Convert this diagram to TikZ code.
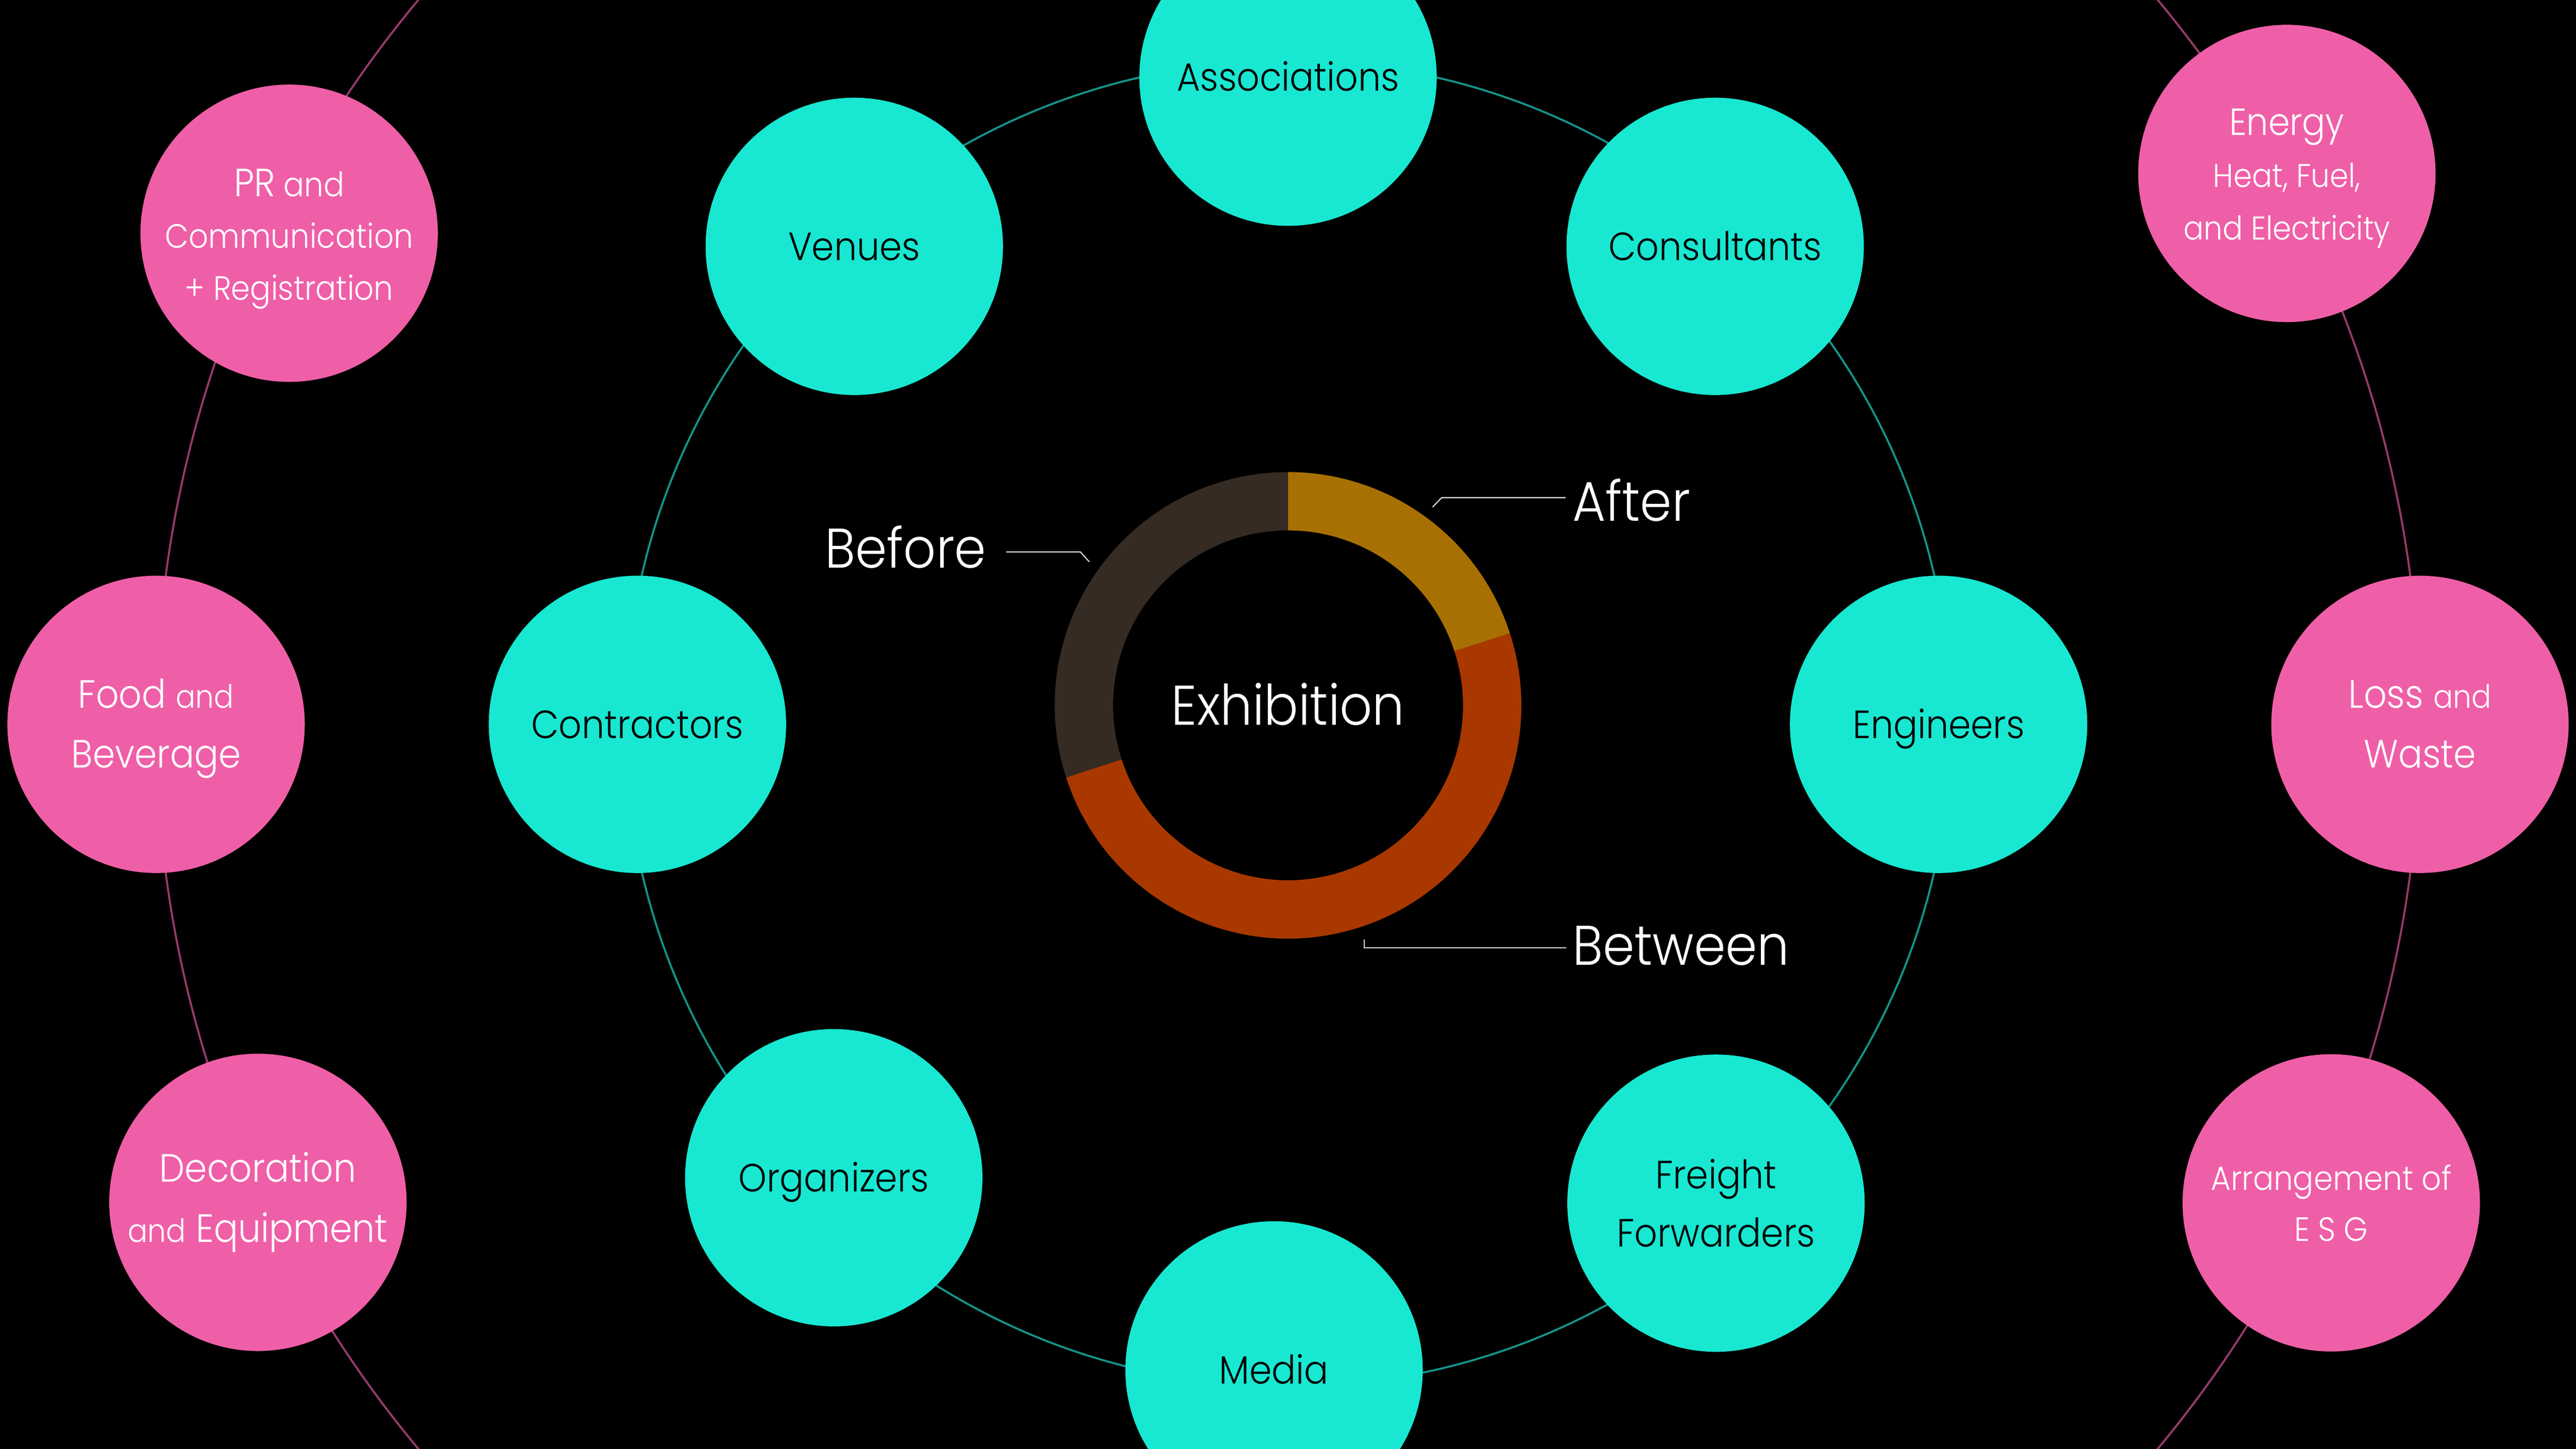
\documentclass[tikz,border=0pt]{standalone}
\usepackage{fontspec}
\usetikzlibrary{calc}
\setmainfont{Poppins Light}[FakeStretch=0.91]
\definecolor{tealfill}{HTML}{18E8D2}
\definecolor{pinkfill}{HTML}{EF5FA7}
\definecolor{tealline}{HTML}{13958A}
\definecolor{pinkline}{HTML}{9A3A6B}
\definecolor{beforecol}{HTML}{362B22}
\definecolor{aftercol}{HTML}{A87003}
\definecolor{betweencol}{HTML}{A83800}
\newcommand\pksmall[1]{{\fontsize{19.5}{36}\selectfont #1}}
\tikzset{
  tealnode/.style={circle, fill=tealfill, minimum size=181pt, inner sep=0pt,
    text=black, align=center, font=\fontsize{24}{35.5}\selectfont},
  oneline/.style={text height=16.8pt, text depth=0pt},
  pinknode/.style={circle, fill=pinkfill, minimum size=181pt, inner sep=0pt,
    text=white, align=center, font=\fontsize{24}{36.5}\selectfont},
  pinktext/.style={inner sep=0pt, text=white, align=center, font=\fontsize{24}{36.5}\selectfont},
  tealring/.style={draw=tealline, line width=1.2pt},
  pinkring/.style={draw=pinkline, line width=1.2pt},
  leader/.style={draw=white!85!black, line width=0.7pt},
  biglabel/.style={text=white, inner sep=0pt, font=\fontsize{34}{40}\selectfont}
}
\begin{document}
\begin{tikzpicture}[x=1pt,y=-1pt]
\useasboundingbox (0,0) rectangle (1568,882);
\fill[black] (0,0) rectangle (1568,882);
\clip (0,0) rectangle (1568,882);

% rings
\coordinate (tc) at (784,440.5);
\coordinate (pc) at (784,441);
\draw[tealring] (tc) circle[radius=403.5];
\draw[pinkring] (pc) circle[radius=689];

% donut
\coordinate (dc) at (784,429.4);
\def\Ro{142}\def\Ri{106.5}
\fill[aftercol] ($(dc)+(-90:\Ro)$) arc[start angle=-90, end angle=-18, radius=\Ro]
  -- ($(dc)+(-18:\Ri)$) arc[start angle=-18, end angle=-90, radius=\Ri] -- cycle;
\fill[betweencol] ($(dc)+(-18:\Ro)$) arc[start angle=-18, end angle=162, radius=\Ro]
  -- ($(dc)+(162:\Ri)$) arc[start angle=162, end angle=-18, radius=\Ri] -- cycle;
\fill[beforecol] ($(dc)+(162:\Ro)$) arc[start angle=162, end angle=270, radius=\Ro]
  -- ($(dc)+(270:\Ri)$) arc[start angle=270, end angle=162, radius=\Ri] -- cycle;

\node[biglabel, anchor=base] (exh) at (784,441.5) {Exhibition};
\node[biglabel, anchor=base west] (after) at (957,317.3) {After};
\node[biglabel, anchor=base east] (before) at (600.5,345.9) {Before};
\node[biglabel, anchor=base west] (between) at (957,587.5) {Between};

% leader lines
\coordinate (a1) at (872,308.7);
\coordinate (a2) at (877.5,303);
\coordinate (a3) at (953,303);
\draw[leader] (a1) -- (a2) -- (a3);
\coordinate (b1) at (612.5,336);
\coordinate (b2) at (657.6,336);
\coordinate (b3) at (663,342);
\draw[leader] (b1) -- (b2) -- (b3);
\coordinate (w1) at (830.3,572);
\coordinate (w2) at (830.3,577);
\coordinate (w3) at (953.3,577);
\draw[leader] (w1) -- (w2) -- (w3);

% teal nodes
\node[tealnode, oneline] (assoc) at (784,47) {Associations};
\node[tealnode, oneline] (venues) at (520,150) {Venues};
\node[tealnode, oneline] (consult) at (1044,150) {Consultants};
\node[tealnode, oneline] (contr) at (388,441) {Contractors};
\node[tealnode, oneline] (eng) at (1180,441) {Engineers};
\node[tealnode, oneline] (org) at (507.5,717) {Organizers};
\node[tealnode] (freight) at (1044.5,732.5) {Freight\\Forwarders};
\node[tealnode, oneline] (media) at (775.5,834) {Media};

% pink nodes
\node[pinknode] (pr) at (176,142) {};
\node[pinktext, font=\fontsize{20.5}{31.5}\selectfont] (prtext) at ([yshift=-3.5pt]pr.center)
  {{\fontsize{24}{31.5}\selectfont PR} and\\Communication\\+ Registration};
\node[pinknode] (food) at (95,441) {};
\node[pinktext] (foodtext) at ([yshift=-2.5pt]food.center) {Food \pksmall{and}\\Beverage};
\node[pinknode] (deco) at (157,732) {Decoration\\\pksmall{and} Equipment};
\node[pinknode] (energy) at (1392,105.6) {};
\node[pinktext, font=\fontsize{20}{31.8}\selectfont] (energytext) at ([yshift=-3pt]energy.center)
  {{\fontsize{23}{31.8}\selectfont Energy}\\Heat, Fuel,\\and Electricity};
\node[pinknode] (loss) at (1473,441) {Loss \pksmall{and}\\Waste};
\node[pinknode, font=\fontsize{20.5}{31}\selectfont] (esg) at (1419,732.3)
  {Arrangement of\\E S G};
\end{tikzpicture}
\end{document}
